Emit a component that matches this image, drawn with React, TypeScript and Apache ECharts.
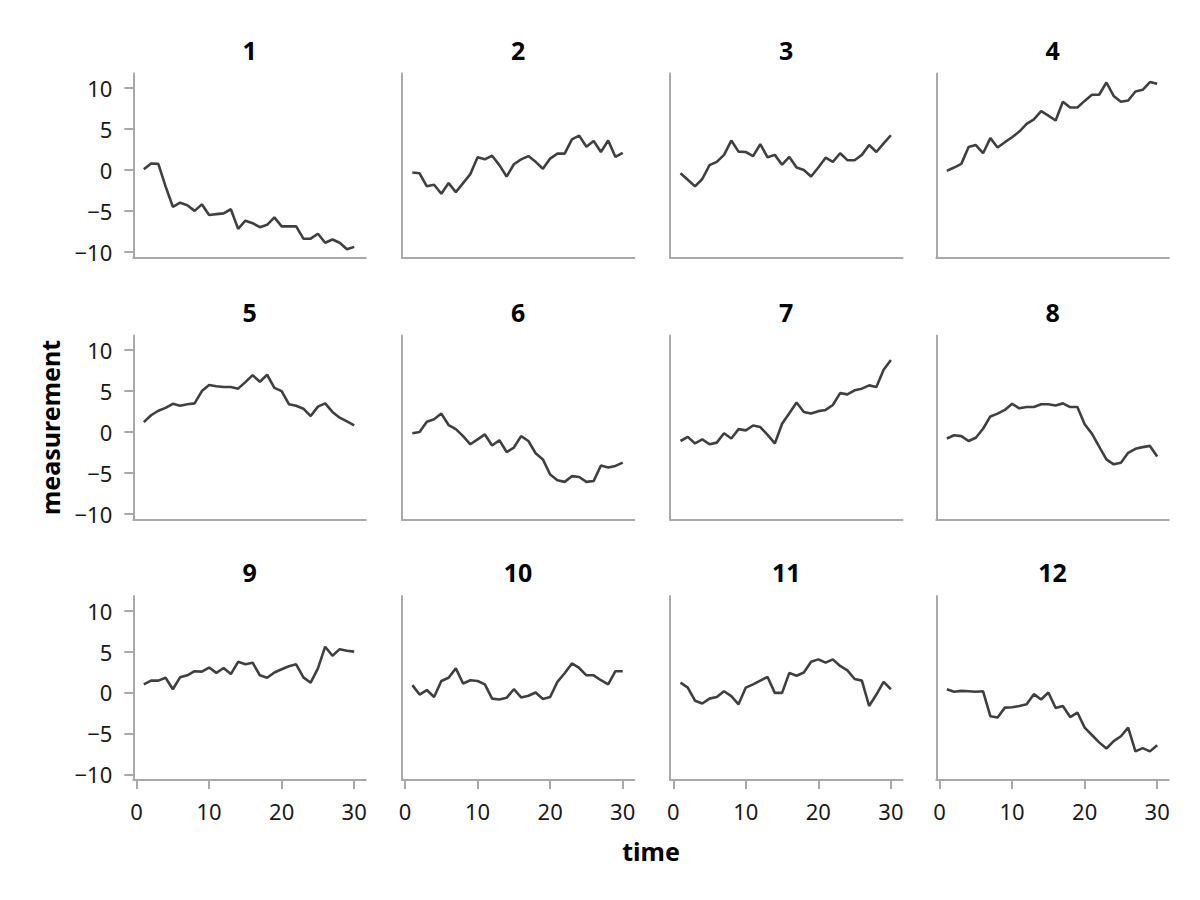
import React, { useEffect, useRef } from "react";
import * as echarts from "echarts";

const TIME = [1, 2, 3, 4, 5, 6, 7, 8, 9, 10, 11, 12, 13, 14, 15, 16, 17, 18, 19, 20, 21, 22, 23, 24, 25, 26, 27, 28, 29, 30];

const PANEL_NAMES = ["1", "2", "3", "4", "5", "6", "7", "8", "9", "10", "11", "12"];

const S1 = [0.1, 0.8, 0.75, -2.0, -4.5, -4.0, -4.3, -5.0, -4.2, -5.5, -5.4, -5.3, -4.8, -7.2, -6.2, -6.5, -7.0, -6.7, -5.8, -6.9, -6.9, -6.9, -8.4, -8.4, -7.8, -8.9, -8.5, -8.9, -9.7, -9.4];
const S2 = [-0.3, -0.4, -2.0, -1.8, -2.9, -1.6, -2.7, -1.6, -0.5, 1.55, 1.3, 1.75, 0.6, -0.8, 0.7, 1.3, 1.7, 1.0, 0.15, 1.4, 2.0, 2.0, 3.75, 4.2, 2.85, 3.55, 2.2, 3.6, 1.6, 2.1];
const S3 = [-0.4, -1.2, -2.0, -1.1, 0.6, 1.0, 1.85, 3.6, 2.25, 2.2, 1.7, 3.15, 1.55, 1.85, 0.65, 1.6, 0.3, 0.0, -0.8, 0.3, 1.5, 1.0, 2.05, 1.2, 1.2, 1.85, 3.05, 2.2, 3.25, 4.25];
const S4 = [-0.1, 0.3, 0.75, 2.8, 3.05, 2.05, 3.9, 2.75, 3.4, 4.0, 4.7, 5.65, 6.2, 7.2, 6.65, 6.05, 8.35, 7.65, 7.65, 8.45, 9.2, 9.2, 10.7, 9.05, 8.35, 8.5, 9.6, 9.8, 10.75, 10.55];
const S5 = [1.2, 2.05, 2.6, 2.95, 3.45, 3.2, 3.4, 3.5, 5.0, 5.75, 5.6, 5.5, 5.5, 5.3, 6.1, 6.95, 6.15, 7.0, 5.4, 5.0, 3.4, 3.2, 2.85, 1.95, 3.1, 3.5, 2.45, 1.75, 1.3, 0.8];
const S6 = [-0.15, 0.0, 1.25, 1.55, 2.25, 0.85, 0.35, -0.5, -1.5, -0.9, -0.3, -1.65, -1.0, -2.45, -1.9, -0.5, -1.1, -2.6, -3.35, -5.2, -5.9, -6.1, -5.4, -5.5, -6.1, -6.0, -4.1, -4.35, -4.15, -3.75];
const S7 = [-1.1, -0.6, -1.4, -0.9, -1.5, -1.3, -0.15, -0.8, 0.35, 0.2, 0.8, 0.6, -0.35, -1.4, 1.0, 2.3, 3.6, 2.45, 2.25, 2.55, 2.7, 3.3, 4.75, 4.6, 5.1, 5.3, 5.7, 5.5, 7.6, 8.8];
const S8 = [-0.8, -0.4, -0.5, -1.1, -0.7, 0.4, 1.9, 2.25, 2.7, 3.45, 2.9, 3.05, 3.05, 3.4, 3.4, 3.25, 3.5, 3.05, 3.05, 0.95, -0.2, -1.8, -3.35, -3.95, -3.75, -2.55, -2.05, -1.85, -1.7, -3.0];
const S9 = [1.0, 1.45, 1.45, 1.8, 0.4, 1.85, 2.1, 2.6, 2.55, 3.05, 2.4, 3.0, 2.25, 3.75, 3.45, 3.65, 2.1, 1.8, 2.45, 2.85, 3.2, 3.45, 1.85, 1.2, 2.95, 5.6, 4.5, 5.3, 5.1, 5.0];
const S10 = [0.9, -0.25, 0.3, -0.55, 1.4, 1.8, 2.95, 1.1, 1.5, 1.4, 1.0, -0.75, -0.85, -0.65, 0.4, -0.6, -0.4, 0.0, -0.8, -0.55, 1.3, 2.35, 3.55, 3.0, 2.1, 2.1, 1.5, 1.0, 2.6, 2.6];
const S11 = [1.2, 0.6, -1.0, -1.35, -0.75, -0.55, 0.15, -0.45, -1.45, 0.6, 1.0, 1.45, 1.9, -0.05, -0.05, 2.4, 2.05, 2.45, 3.75, 4.05, 3.65, 4.05, 3.25, 2.7, 1.65, 1.45, -1.65, -0.25, 1.3, 0.4];
const S12 = [0.4, 0.1, 0.2, 0.15, 0.1, 0.15, -2.9, -3.05, -1.85, -1.8, -1.65, -1.45, -0.2, -0.85, 0.0, -1.9, -1.65, -3.0, -2.45, -4.3, -5.2, -6.1, -6.85, -5.95, -5.35, -4.3, -7.2, -6.8, -7.2, -6.45];

const SERIES = [S1, S2, S3, S4, S5, S6, S7, S8, S9, S10, S11, S12];

const X_TICKS = [0, 10, 20, 30];
const Y_TICKS = [-10, -5, 0, 5, 10];

const FONT = "Noto Sans";

export default function App() {
  const ref = useRef<HTMLDivElement>(null);

  useEffect(() => {
    document.body.style.margin = "0";
    if (!ref.current) return;
    const chart = echarts.init(ref.current, null, { renderer: "svg" });

    const lefts = [133.3, 401.8, 670, 936.3];
    const tops = [73.5, 335.5, 596];
    const W = 232.5;
    const H = 184;
    const axisColor = "#a9a9a9";
    const textColor = "#1a1a1a";
    const fmt = (v: number) => String(v).replace("-", "\u2212");

    const grids: any[] = [];
    const xAxes: any[] = [];
    const yAxes: any[] = [];
    const series: any[] = [];
    const graphics: any[] = [];

    SERIES.forEach((vals, i) => {
      const r = Math.floor(i / 4);
      const c = i % 4;
      grids.push({ left: lefts[c], top: tops[r], width: W, height: H, containLabel: false });
      const bottomRow = r === 2;
      const leftCol = c === 0;
      xAxes.push({
        gridIndex: i,
        type: "value",
        min: -0.45,
        max: 31.6,
        splitLine: { show: false },
        axisLine: { show: true, onZero: false, lineStyle: { color: axisColor, width: 2 } },
        axisTick: { show: bottomRow, length: 9, customValues: X_TICKS, lineStyle: { color: axisColor, width: 2 } },
        axisLabel: {
          show: bottomRow,
          customValues: X_TICKS,
          margin: 20,
          fontFamily: FONT,
          fontSize: 22,
          color: textColor,
          formatter: fmt,
        },
      });
      yAxes.push({
        gridIndex: i,
        type: "value",
        min: -10.7,
        max: 11.8,
        splitLine: { show: false },
        axisLine: { show: true, onZero: false, lineStyle: { color: axisColor, width: 2 } },
        axisTick: { show: leftCol, length: 9, customValues: Y_TICKS, lineStyle: { color: axisColor, width: 2 } },
        axisLabel: {
          show: leftCol,
          customValues: Y_TICKS,
          margin: 21,
          fontFamily: FONT,
          fontSize: 22,
          color: textColor,
          formatter: fmt,
        },
      });
      series.push({
        type: "line",
        xAxisIndex: i,
        yAxisIndex: i,
        data: TIME.map((t, k) => [t, vals[k]]),
        showSymbol: false,
        symbol: "none",
        lineStyle: { color: "#404040", width: 2.6 },
        silent: true,
      });
      graphics.push({
        type: "text",
        x: lefts[c] + W / 2,
        y: tops[r] - 24,
        style: {
          text: PANEL_NAMES[i],
          fontFamily: FONT,
          fontSize: 25,
          fontWeight: "bold",
          fill: "#000",
          textAlign: "center",
          textVerticalAlign: "middle",
        },
      });
    });

    graphics.push({
      type: "text",
      x: (lefts[0] + lefts[3] + W) / 2,
      y: 851,
      style: {
        text: "time",
        fontFamily: FONT,
        fontSize: 25,
        fontWeight: "bold",
        fill: "#000",
        textAlign: "center",
        textVerticalAlign: "middle",
      },
    });
    graphics.push({
      type: "text",
      x: 50,
      y: tops[1] + H / 2,
      rotation: Math.PI / 2,
      style: {
        text: "measurement",
        fontFamily: FONT,
        fontSize: 25,
        fontWeight: "bold",
        fill: "#000",
        textAlign: "center",
        textVerticalAlign: "middle",
      },
    });

    chart.setOption({
      animation: false,
      backgroundColor: "#ffffff",
      grid: grids,
      xAxis: xAxes,
      yAxis: yAxes,
      series,
      graphic: graphics,
    });

    return () => {
      chart.dispose();
    };
  }, []);

  return <div ref={ref} style={{ width: 1200, height: 900 }} />;
}
